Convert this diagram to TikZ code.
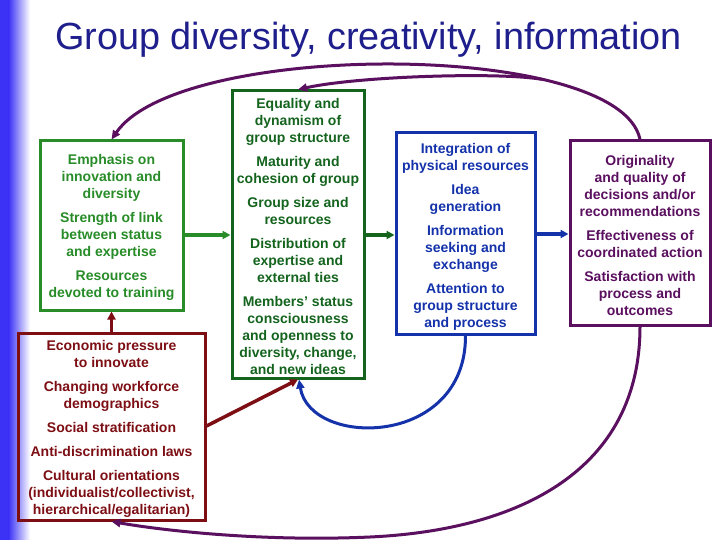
\documentclass[tikz,border=0pt]{standalone}
\usepackage{fontspec}
\setmainfont{Liberation Sans}
\usetikzlibrary{arrows.meta}
\definecolor{gA}{RGB}{40,140,40}
\definecolor{gB}{RGB}{20,100,30}
\definecolor{bC}{RGB}{20,50,170}
\definecolor{pD}{RGB}{90,15,95}
\definecolor{rE}{RGB}{125,15,20}
\definecolor{titleblue}{RGB}{30,30,140}
\definecolor{barblue}{RGB}{60,50,245}
\begin{document}
\begin{tikzpicture}[x=1pt,y=-1pt,
  box/.style={draw,line width=3pt,inner sep=0pt},
  txt/.style={anchor=north,align=center,inner sep=0pt,font=\fontsize{14}{17}\selectfont\bfseries},
  conn/.style={line width=3.5pt,-{Triangle[length=8pt,width=8pt]}},
  loopc/.style={line width=3pt,-{Triangle[length=9pt,width=8pt]}}]
\useasboundingbox (0,0) rectangle (720,540);
\fill[white] (0,0) rectangle (720,540);
\fill[barblue] (0,0) rectangle (9,540);
\shade[left color=barblue,right color=white] (8.5,0) rectangle (30,540);

\node[anchor=base,text=titleblue,inner sep=0pt,font=\fontsize{37.8}{40}\selectfont] (title) at (368.5,50) {Group diversity, creativity, information};

\node[box,draw=gA,minimum width=143pt,minimum height=169pt] (b1) at (111.5,225.5) {};
\node[box,draw=gB,minimum width=132pt,minimum height=287pt] (b2) at (298,234.5) {};
\node[box,draw=bC,minimum width=139pt,minimum height=201pt] (b3) at (465.5,233.5) {};
\node[box,draw=pD,minimum width=140pt,minimum height=184pt] (b4) at (640,233) {};
\node[box,draw=rE,minimum width=187pt,minimum height=187pt] (b5) at (111.5,426.5) {};

\node[txt,text=gA] (t1) at (111.5,154) {Emphasis on\\innovation and\\diversity\\[7pt]Strength of link\\between status\\and expertise\\[7pt]Resources\\devoted to training};
\node[txt,text=gB] (t2) at (298,98) {Equality and\\dynamism of\\group structure\\[7pt]Maturity and\\cohesion of group\\[7pt]Group size and\\resources\\[7pt]Distribution of\\expertise and\\external ties\\[7pt]Members’ status\\consciousness\\and openness to\\diversity, change,\\and new ideas};
\node[txt,text=bC] (t3) at (465.5,143) {Integration of\\physical resources\\[7pt]Idea\\generation\\[7pt]Information\\seeking and\\exchange\\[7pt]Attention to\\group structure\\and process};
\node[txt,text=pD] (t4) at (640,155) {Originality\\and quality of\\decisions and/or\\recommendations\\[7pt]Effectiveness of\\coordinated action\\[7pt]Satisfaction with\\process and\\outcomes};
\node[txt,text=rE] (t5) at (111.5,340) {Economic pressure\\to innovate\\[7pt]Changing workforce\\demographics\\[7pt]Social stratification\\[7pt]Anti-discrimination laws\\[7pt]Cultural orientations\\(individualist/collectivist,\\hierarchical/egalitarian)};

\draw[conn,gA] (b1.east |- 0,235) -- (b2.west |- 0,235);
\draw[conn,gB] (b2.east |- 0,235) -- (b3.west |- 0,235);
\draw[conn,bC] (b3.east |- 0,234) -- (b4.west |- 0,234);
\draw[conn,rE] (b5.north) -- (b1.south);
\draw[conn,rE] (b5.east |- 0,426) -- (b2.south);

\draw[loopc,bC] (b3.south) .. controls (466,448) and (310,448) .. ([xshift=1pt]b2.south);
\draw[loopc,pD] (b4.south) .. controls (640,470) and (520,530) .. (370,537) .. controls (260,542) and (160,530) .. (b5.south);
\draw[loopc,pD] (b4.north) .. controls (620,40) and (180,40) .. (b1.north) coordinate[pos=0.28] (m);
\draw[loopc,pD] (m) .. controls (500,72) and (360,76) .. (b2.north);
\end{tikzpicture}
\end{document}
